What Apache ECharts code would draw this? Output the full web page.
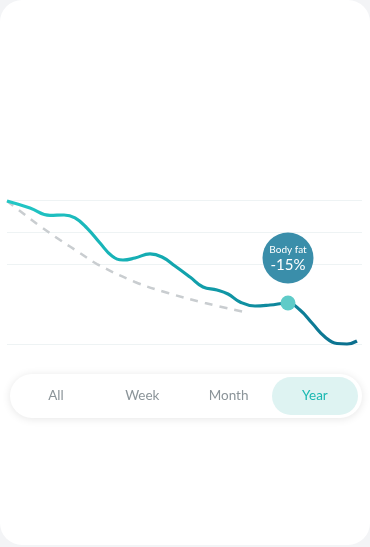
<!DOCTYPE html>
<html>
<head>
<meta charset="utf-8">
<script src="https://cdn.jsdelivr.net/npm/echarts@6/dist/echarts.min.js"></script>
<style>
html,body{margin:0;padding:0;background:#f3f4f6;}
#c{width:370px;height:545px;background:#fff;border-radius:22px;overflow:hidden;}
</style>
</head>
<body>
<div id="c"></div>
<script>
// Day index along the year
const actualDays = [0,23,43,57,68,80,93,105,116,128,143,155,168,183,196,210,221,233,248,263,281,293,305,318,330,340,350];
// Body fat trend values
const actualValues = [34.90,34.17,33.39,33.44,33.13,32.08,30.52,29.17,28.75,28.96,29.38,29.06,28.13,26.98,25.94,25.63,25.21,24.38,23.96,24.06,24.27,23.54,22.19,20.73,20.05,20.00,20.31];
// Projected (dashed) trend
const targetDays = [0,13,33,53,73,90,128,161,198,238];
const targetValues = [34.90,33.85,32.29,30.83,29.48,28.33,26.46,25.31,24.27,23.33];
// Highlighted point and bubble
const highlightPoint = [281, 24.27];
const bubblePoint = [281, 28.96];
const bubbleTitle = 'Body fat';
const bubbleValue = '-15%';
// Reference gridline values
const gridValues = [35, 31.67, 28.33, 20];
// Period tabs
const tabs = ['All', 'Week', 'Month', 'Year'];
const activeTab = 'Year';

const chart = echarts.init(document.getElementById('c'));
const FONT = 'Lato, "Open Sans", sans-serif';

const tabLeft = 10, tabTop = 374, tabW = 352, tabH = 44;
const tabGraphics = [{
  type: 'rect',
  shape: {x: tabLeft, y: tabTop, width: tabW, height: tabH, r: 22},
  style: {fill: '#fff', shadowBlur: 8, shadowColor: 'rgba(0,0,0,0.10)', shadowOffsetY: 1},
  z: 1
}];
tabs.forEach((t, i) => {
  const cx = tabLeft + 46 + i * 86.3;
  if (t === activeTab) {
    tabGraphics.push({
      type: 'rect',
      shape: {x: 272, y: tabTop + 3, width: 86, height: tabH - 6, r: 19},
      style: {fill: '#def3f2'},
      z: 2
    });
  }
  tabGraphics.push({
    type: 'text',
    x: cx, y: tabTop + tabH / 2,
    style: {
      text: t, fill: t === activeTab ? '#1ab8b2' : '#8b9499',
      font: '13.5px ' + FONT, align: 'center', verticalAlign: 'middle'
    },
    z: 3
  });
});

chart.setOption({
  animation: false,
  grid: {left: 7, right: 8, top: 200, height: 153.6},
  xAxis: {type: 'value', min: 0, max: 355, show: false},
  yAxis: {type: 'value', min: 19, max: 35, show: false},
  graphic: tabGraphics,
  series: [
    {
      type: 'line',
      data: [],
      z: 0,
      markLine: {
        silent: true, symbol: 'none', label: {show: false}, z: 0,
        lineStyle: {color: '#eef3f4', width: 1, type: 'solid'},
        data: gridValues.map(v => ({yAxis: v}))
      }
    },
    {
      type: 'line',
      data: targetDays.map((d, i) => [d, targetValues[i]]),
      smooth: 0.4,
      symbol: 'none',
      lineStyle: {color: '#c9cdd0', width: 2.5, type: [8, 7]},
      z: 2
    },
    {
      type: 'line',
      data: actualDays.map((d, i) => [d, actualValues[i]]),
      smooth: 0.45,
      symbol: 'none',
      lineStyle: {
        width: 3.2,
        color: {type: 'linear', x: 0, y: 0, x2: 1, y2: 0, colorStops: [
          {offset: 0, color: '#22c8c6'},
          {offset: 0.45, color: '#13a9b0'},
          {offset: 1, color: '#0b6d8d'}
        ]}
      },
      z: 3
    },
    {
      type: 'scatter',
      data: [highlightPoint],
      symbolSize: 15,
      itemStyle: {color: '#5fcbc8', opacity: 1},
      z: 4
    },
    {
      type: 'scatter',
      data: [bubblePoint],
      symbolSize: 51,
      itemStyle: {color: '#3a8eaa', opacity: 1},
      label: {
        show: true, position: 'inside',
        formatter: '{a|' + bubbleTitle + '}\n{b|' + bubbleValue + '}',
        rich: {
          a: {color: '#fff', fontSize: 10, fontFamily: FONT, lineHeight: 14},
          b: {color: '#fff', fontSize: 15, fontFamily: FONT, lineHeight: 17}
        }
      },
      z: 5
    }
  ]
});
</script>
</body>
</html>
